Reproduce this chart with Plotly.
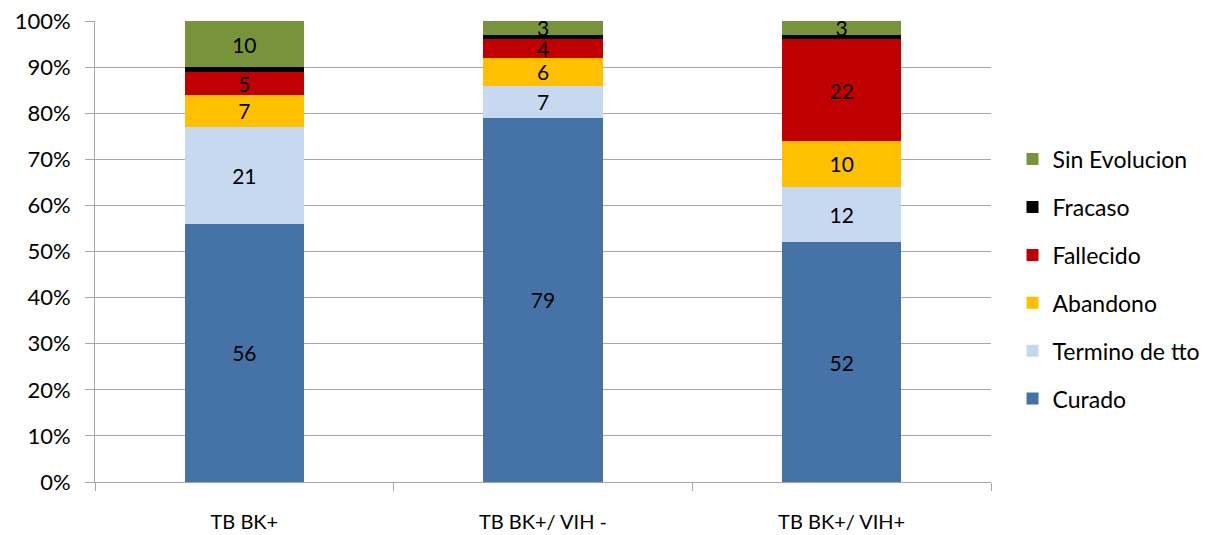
import plotly.graph_objects as go

categories = ["TB BK+", "TB BK+/ VIH -", "TB BK+/ VIH+"]

series_names = ["Curado", "Termino de tto", "Abandono", "Fallecido", "Fracaso", "Sin Evolucion"]
curado = [56, 79, 52]
termino = [21, 7, 12]
abandono = [7, 6, 10]
fallecido = [5, 4, 22]
fracaso = [1, 1, 1]
sin_evolucion = [10, 3, 3]

series_values = [curado, termino, abandono, fallecido, fracaso, sin_evolucion]
colors = ["#4573A7", "#C6D9F1", "#FFC000", "#C00000", "#000000", "#77933C"]
show_labels = [True, True, True, True, False, True]

FONT = "Lato, 'Open Sans', sans-serif"
GRID = "#A6A6A6"

fig = go.Figure()
for i, (name, vals, color, lab) in enumerate(zip(series_names, series_values, colors, show_labels)):
    fig.add_trace(
        go.Bar(
            x=categories,
            y=vals,
            name=name,
            legendgroup=name,
            legendrank=100 - i,
            marker={"color": color, "line": {"width": 0}},
            text=[str(v) for v in vals] if lab else None,
            textposition="inside" if lab else "none",
            insidetextanchor="middle",
            textangle=0,
            textfont={"size": 21, "color": "black", "family": FONT},
            hoverinfo="x+y+name",
        )
    )

# the page body adds an 8px offset, margins are set to compensate
fig.update_layout(
    width=1218,
    height=535,
    barmode="stack",
    barnorm="percent",
    bargap=0.6,
    plot_bgcolor="white",
    paper_bgcolor="white",
    font={"family": FONT, "size": 20, "color": "black"},
    margin={"l": 87, "r": 235, "t": 13, "b": 61, "autoexpand": False},
    uniformtext={"minsize": 21, "mode": "show"},
    legend={
        "x": 1.024,
        "xanchor": "left",
        "y": 0.44,
        "yanchor": "middle",
        "traceorder": "grouped",
        "tracegroupgap": 15,
        "font": {"size": 23, "family": FONT},
        "itemwidth": 30,
    },
)

fig.update_yaxes(
    range=[0, 100],
    dtick=10,
    ticksuffix="%",
    showgrid=True,
    gridcolor=GRID,
    gridwidth=1,
    zeroline=False,
    showline=True,
    linecolor=GRID,
    linewidth=1,
    ticks="outside",
    ticklen=9,
    tickcolor=GRID,
    ticklabelstandoff=10,
    ticklabeloverflow="allow",
    tickfont={"size": 22},
    automargin=False,
)
fig.update_xaxes(
    showline=True,
    linecolor=GRID,
    linewidth=1,
    ticks="outside",
    tickson="boundaries",
    ticklen=8,
    tickcolor=GRID,
    ticklabelstandoff=22,
    tickfont={"size": 20},
    automargin=False,
)

fig.write_html("out.html")
